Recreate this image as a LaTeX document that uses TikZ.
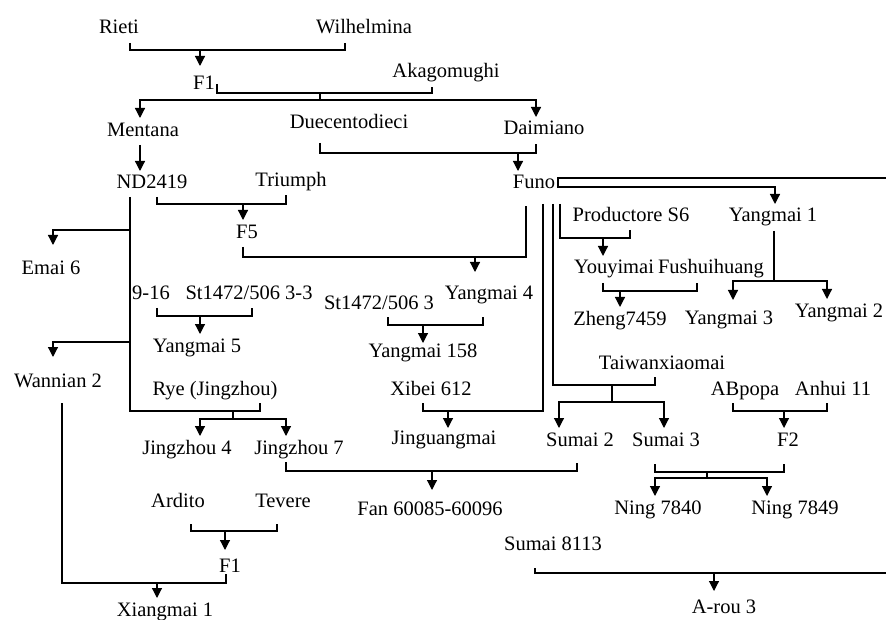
\documentclass[tikz,border=0pt]{standalone}
\usepackage{fontspec}
\setmainfont{Liberation Serif}
\usetikzlibrary{arrows.meta}
\begin{document}
\begin{tikzpicture}[x=1pt,y=-1pt,line width=1.2pt,
  lbl/.style={inner sep=0pt,outer sep=0pt,font=\fontsize{20.5}{24}\selectfont,text height=14pt,text depth=4pt,minimum height=26pt,yshift=-1pt},
  arr/.style={-{Triangle[width=10pt,length=10pt]}}]
\useasboundingbox (0,0) rectangle (886,620);
% nodes
\node[lbl] (Rieti) at (119,28) {Rieti};
\node[lbl] (Wilhelmina) at (364,28) {Wilhelmina};
\node[lbl] (F1a) at (204,84) {F1};
\node[lbl] (Akagomughi) at (446,72) {Akagomughi};
\node[lbl] (Mentana) at (143,131) {Mentana};
\node[lbl] (Duecentodieci) at (349,123) {Duecentodieci};
\node[lbl] (Daimiano) at (544,129) {Daimiano};
\node[lbl] (ND2419) at (152,183) {ND2419};
\node[lbl] (Triumph) at (291,181) {Triumph};
\node[lbl] (Funo) at (534,183) {Funo};
\node[lbl] (F5) at (247,233) {F5};
\node[lbl] (Emai) at (51,269) {Emai 6};
\node[lbl] (Productore) at (631,216) {Productore S6};
\node[lbl] (Yangmai1) at (773,216) {Yangmai 1};
\node[lbl] (Youyimai) at (614,268) {Youyimai};
\node[lbl] (Fushuihuang) at (711,268) {Fushuihuang};
\node[lbl] (Zheng) at (620,319) {Zheng7459};
\node[lbl] (Yangmai3) at (729,318) {Yangmai 3};
\node[lbl] (Yangmai2) at (839,311) {Yangmai 2};
\node[lbl] (NineSixteen) at (151,294) {9-16};
\node[lbl] (StA) at (249,294) {St1472/506 3-3};
\node[lbl] (StB) at (379,303) {St1472/506 3};
\node[lbl] (Yangmai4) at (489,293) {Yangmai 4};
\node[lbl] (Yangmai5) at (197,346) {Yangmai 5};
\node[lbl] (Yangmai158) at (423,351) {Yangmai 158};
\node[lbl] (Wannian) at (58,381) {Wannian 2};
\node[lbl] (Rye) at (215,389) {Rye (Jingzhou)};
\node[lbl] (Xibei) at (431,389) {Xibei 612};
\node[lbl] (Taiwan) at (662,363) {Taiwanxiaomai};
\node[lbl] (ABpopa) at (745,389) {ABpopa};
\node[lbl] (Anhui) at (833,389) {Anhui 11};
\node[lbl] (Jingzhou4) at (187,448) {Jingzhou 4};
\node[lbl] (Jingzhou7) at (299,448) {Jingzhou 7};
\node[lbl] (Jinguangmai) at (444,438) {Jinguangmai};
\node[lbl] (Sumai2) at (580,440) {Sumai 2};
\node[lbl] (Sumai3) at (666,440) {Sumai 3};
\node[lbl] (F2) at (788,440) {F2};
\node[lbl] (Ardito) at (178,501) {Ardito};
\node[lbl] (Tevere) at (283,501) {Tevere};
\node[lbl] (Fan) at (430,509) {Fan 60085-60096};
\node[lbl] (Ning7840) at (658,508) {Ning 7840};
\node[lbl] (Ning7849) at (795,508) {Ning 7849};
\node[lbl] (Sumai8113) at (553,544) {Sumai 8113};
\node[lbl] (F1b) at (230,566) {F1};
\node[lbl] (Xiangmai) at (165,610) {Xiangmai 1};
\node[lbl] (Arou) at (724,607) {A-rou 3};
% Rieti x Wilhelmina -> F1
\draw[shorten <=1pt,shorten >=1pt] (130,0 |- Rieti.south) |- (345,50) -- (345,0 |- Wilhelmina.south);
\draw[arr,shorten >=6pt] (200,50) -- (200,0 |- F1a.north);
% F1 x Akagomughi
\draw[shorten >=1pt] (217,84) |- (432,93) -- (432,0 |- Akagomughi.south);
\draw (320,93) -- (320,100);
\draw[arr,shorten >=1pt] (320,100) -| (140,0 |- Mentana.north);
\draw[arr] (320,100) -| (536,0 |- Daimiano.north);
% Mentana -> ND2419
\draw[arr] (140,0 |- Mentana.south) -- (140,0 |- ND2419.north);
% Duecentodieci x Daimiano -> Funo
\draw[shorten <=6pt,shorten >=1pt] (320,0 |- Duecentodieci.south) |- (536,153) -- (536,0 |- Daimiano.south);
\draw[arr] (518,153) -- (518,0 |- Funo.north);
% ND2419 x Triumph -> F5
\draw (157,0 |- ND2419.south) |- (286,204) -- (286,0 |- Triumph.south);
\draw[arr,shorten >=1pt] (243,204) -- (243,0 |- F5.north);
% F5 x Funo -> Yangmai 4
\draw[shorten >=9pt] (243,0 |- F5.south) |- (526,257) -- (526,0 |- Funo.south);
\draw[arr,shorten >=9pt] (475,257) -- (475,0 |- Yangmai4.north);
% ND2419 line
\draw (130,0 |- ND2419.south) |- (260,411) -- (260,0 |- Rye.south);
\draw[arr,shorten >=12pt] (130,230) -| (53,0 |- Emai.north);
\draw[arr,shorten >=12pt] (130,342) -| (53,0 |- Wannian.north);
\draw (233,411) -- (233,419);
\draw[arr] (233,419) -| (200,0 |- Jingzhou4.north);
\draw[arr] (233,419) -| (286,0 |- Jingzhou7.north);
% 9-16 x St1472/506 3-3 -> Yangmai 5
\draw (157,0 |- NineSixteen.south) |- (252,316) -- (252,0 |- StA.south);
\draw[arr] (200,316) -- (200,0 |- Yangmai5.north);
% St1472/506 3 x Yangmai 4 -> Yangmai 158
\draw[shorten >=10pt] (388,0 |- StB.south) |- (483,325) -- (483,0 |- Yangmai4.south);
\draw[arr,shorten >=-4pt] (423,325) -- (423,0 |- Yangmai158.north);
% Funo x Xibei 612 -> Jinguangmai
\draw[shorten <=7pt] (543,0 |- Funo.south) |- (423,411) -- (423,0 |- Xibei.south);
\draw[arr,shorten >=-2pt] (448,411) -- (448,0 |- Jinguangmai.north);
% Funo x Taiwanxiaomai -> Sumai 2, Sumai 3
\draw[shorten <=7pt] (553,0 |- Funo.south) |- (655,385) -- (655,0 |- Taiwan.south);
\draw (612,385) -- (612,402);
\draw[arr] (612,402) -| (559,0 |- Sumai2.north);
\draw[arr] (612,402) -| (664,0 |- Sumai3.north);
% Funo x Productore S6 -> Youyimai
\draw[shorten <=7pt] (560,0 |- Funo.south) |- (630,238) -- (630,0 |- Productore.south);
\draw[arr] (603,238) -- (603,0 |- Youyimai.north);
% Funo -> Yangmai 1 and right edge
\draw[arr] (886,178) -| (558,187) -| (775,0 |- Yangmai1.north);
% Yangmai 1 -> Yangmai 3, Yangmai 2
\draw[shorten <=1pt] (774,0 |- Yangmai1.south) -- (774,281);
\draw[arr,shorten >=6pt] (774,281) -| (733,0 |- Yangmai3.north);
\draw[arr] (774,281) -| (827,0 |- Yangmai2.north);
% Youyimai x Fushuihuang -> Zheng7459
\draw[shorten <=1pt,shorten >=1pt] (603,0 |- Youyimai.south) |- (697,291) -- (697,0 |- Fushuihuang.south);
\draw[arr] (620,291) -- (620,0 |- Zheng.north);
% Jingzhou 7 x Sumai 2 -> Fan
\draw[shorten >=9pt] (286,0 |- Jingzhou7.south) |- (577,471) -- (577,0 |- Sumai2.south);
\draw[arr,shorten >=7pt] (432,471) -- (432,0 |- Fan.north);
% ABpopa x Anhui 11 -> F2
\draw (733,0 |- ABpopa.south) |- (827,411) -- (827,0 |- Anhui.south);
\draw[arr] (784,411) -- (784,0 |- F2.north);
% Sumai 3 x F2 -> Ning
\draw[shorten <=10pt,shorten >=10pt] (655,0 |- Sumai3.south) |- (784,472) -- (784,0 |- F2.south);
\draw (707,472) -- (707,478);
\draw[arr] (707,478) -| (655,0 |- Ning7840.north);
\draw[arr] (707,478) -| (767,0 |- Ning7849.north);
% Ardito x Tevere -> F1
\draw[shorten <=9pt,shorten >=9pt] (191,0 |- Ardito.south) |- (277,531) -- (277,0 |- Tevere.south);
\draw[arr,shorten >=4pt] (225,531) -- (225,0 |- F1b.north);
% Wannian 2 x F1 -> Xiangmai 1
\draw[shorten <=8pt,shorten >=-6pt] (62,0 |- Wannian.south) |- (226,583) -- (226,0 |- F1b.south);
\draw[arr] (157,583) -- (157,0 |- Xiangmai.north);
% Sumai 8113 -> A-rou 3
\draw[shorten <=10pt] (535,0 |- Sumai8113.south) |- (886,573);
\draw[arr,shorten >=4pt] (714,573) -- (714,0 |- Arou.north);
\end{tikzpicture}
\end{document}
